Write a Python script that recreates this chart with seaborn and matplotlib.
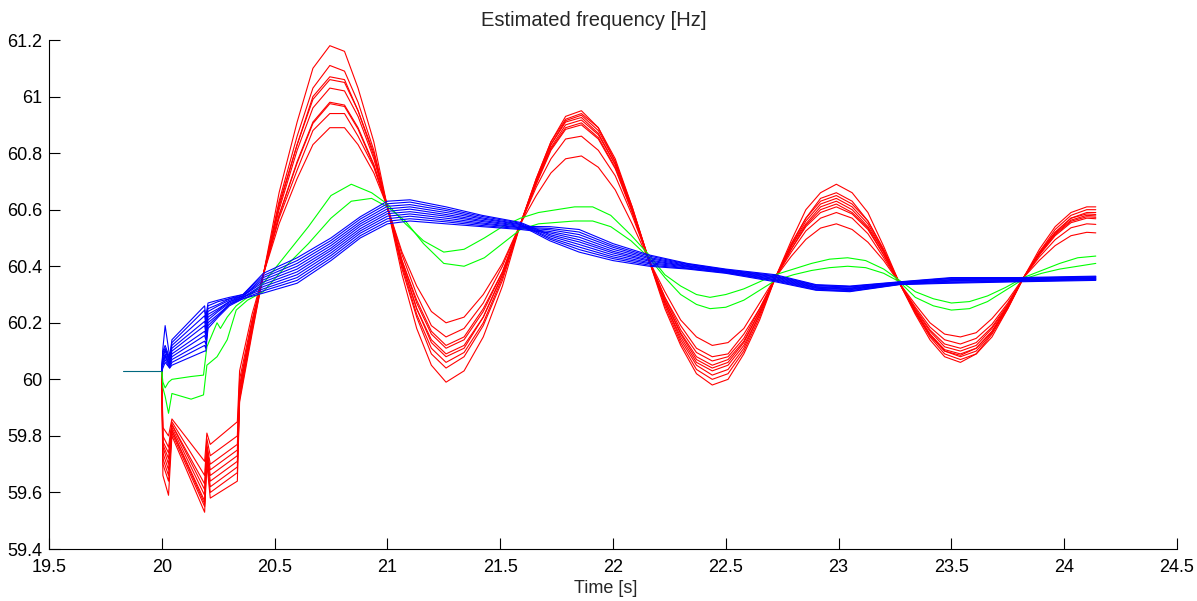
import matplotlib
matplotlib.use("Agg")
import pandas as pd
import matplotlib.pyplot as plt
import seaborn as sns
from matplotlib.ticker import FuncFormatter

# Pre-disturbance segment (all signals overlap)
pre_time = [19.83, 20.0]
pre_freq = [60.03, 60.03]

# Red group: shared time base
red_time = [20.0, 20.005, 20.03, 20.045, 20.19, 20.2, 20.215, 20.335, 20.345, 20.40,
            20.45, 20.52, 20.60, 20.67, 20.745, 20.81, 20.87, 20.94,
            21.00, 21.065, 21.13, 21.195, 21.26, 21.34, 21.425, 21.51,
            21.59, 21.66, 21.725, 21.79, 21.86, 21.935, 22.01, 22.085,
            22.16, 22.23, 22.30, 22.37, 22.44, 22.51, 22.58, 22.65,
            22.72, 22.79, 22.855, 22.92, 22.99, 23.06, 23.13, 23.20,
            23.27, 23.34, 23.405, 23.47, 23.54, 23.61, 23.68, 23.75,
            23.82, 23.89, 23.96, 24.03, 24.10, 24.14]

red_1 = [60.03, 59.66, 59.59, 59.80, 59.53, 59.70, 59.58, 59.64, 59.92, 60.16,
         60.37, 60.66, 60.91, 61.10, 61.18, 61.16, 61.03, 60.84,
         60.61, 60.37, 60.18, 60.05, 59.99, 60.03, 60.15, 60.33,
         60.55, 60.71, 60.84, 60.93, 60.95, 60.89, 60.78, 60.61,
         60.42, 60.25, 60.12, 60.02, 59.98, 60.00, 60.09, 60.21,
         60.36, 60.49, 60.60, 60.66, 60.69, 60.66, 60.59, 60.47,
         60.34, 60.23, 60.14, 60.08, 60.06, 60.09, 60.15, 60.25,
         60.36, 60.46, 60.54, 60.59, 60.61, 60.61]
red_2 = [60.03, 59.70, 59.64, 59.81, 59.55, 59.72, 59.60, 59.67, 59.93, 60.17,
         60.37, 60.63, 60.86, 61.03, 61.11, 61.09, 60.98, 60.81,
         60.61, 60.39, 60.22, 60.09, 60.04, 60.08, 60.19, 60.35,
         60.55, 60.71, 60.84, 60.92, 60.94, 60.89, 60.77, 60.61,
         60.42, 60.26, 60.13, 60.035, 60.00, 60.02, 60.10, 60.22,
         60.36, 60.48, 60.57, 60.64, 60.66, 60.63, 60.56, 60.46,
         60.34, 60.235, 60.15, 60.09, 60.07, 60.09, 60.16, 60.25,
         60.36, 60.45, 60.53, 60.58, 60.60, 60.60]
red_3 = [60.03, 59.72, 59.66, 59.82, 59.56, 59.73, 59.62, 59.69, 59.94, 60.18,
         60.37, 60.62, 60.83, 61.00, 61.07, 61.06, 60.95, 60.80,
         60.61, 60.40, 60.23, 60.11, 60.06, 60.095, 60.20, 60.36,
         60.55, 60.705, 60.83, 60.915, 60.934, 60.88, 60.77, 60.605,
         60.42, 60.27, 60.14, 60.05, 60.015, 60.035, 60.11, 60.23,
         60.36, 60.475, 60.57, 60.63, 60.65, 60.62, 60.56, 60.455,
         60.34, 60.24, 60.155, 60.10, 60.08, 60.10, 60.165, 60.255,
         60.36, 60.45, 60.52, 60.57, 60.59, 60.59]
red_4 = [60.03, 59.74, 59.68, 59.82, 59.57, 59.74, 59.64, 59.71, 59.95, 60.18,
         60.37, 60.61, 60.83, 60.99, 61.06, 61.05, 60.95, 60.79,
         60.61, 60.41, 60.25, 60.13, 60.08, 60.11, 60.22, 60.37,
         60.55, 60.70, 60.83, 60.91, 60.926, 60.87, 60.76, 60.60,
         60.42, 60.27, 60.15, 60.06, 60.03, 60.05, 60.12, 60.23,
         60.36, 60.47, 60.56, 60.62, 60.64, 60.61, 60.55, 60.45,
         60.34, 60.24, 60.16, 60.10, 60.085, 60.11, 60.17, 60.255,
         60.36, 60.445, 60.52, 60.57, 60.585, 60.583]
red_5 = [60.03, 59.76, 59.70, 59.83, 59.59, 59.75, 59.66, 59.73, 59.96, 60.19,
         60.37, 60.60, 60.81, 60.96, 61.03, 61.02, 60.93, 60.78,
         60.61, 60.41, 60.25, 60.14, 60.09, 60.12, 60.22, 60.37,
         60.55, 60.70, 60.82, 60.90, 60.917, 60.865, 60.76, 60.60,
         60.42, 60.28, 60.16, 60.07, 60.04, 60.06, 60.13, 60.24,
         60.36, 60.47, 60.55, 60.61, 60.63, 60.60, 60.54, 60.45,
         60.34, 60.24, 60.16, 60.105, 60.09, 60.11, 60.17, 60.26,
         60.36, 60.444, 60.516, 60.563, 60.58, 60.578]
red_6 = [60.03, 59.77, 59.72, 59.84, 59.61, 59.76, 59.68, 59.75, 59.97, 60.20,
         60.37, 60.58, 60.77, 60.91, 60.98, 60.97, 60.89, 60.76,
         60.61, 60.42, 60.27, 60.16, 60.11, 60.14, 60.24, 60.38,
         60.55, 60.695, 60.815, 60.89, 60.907, 60.855, 60.75, 60.595,
         60.42, 60.28, 60.165, 60.08, 60.05, 60.07, 60.135, 60.24,
         60.36, 60.46, 60.545, 60.60, 60.62, 60.59, 60.535, 60.44,
         60.34, 60.245, 60.17, 60.115, 60.10, 60.12, 60.18, 60.26,
         60.36, 60.442, 60.512, 60.559, 60.575, 60.573]
red_7 = [60.03, 59.78, 59.74, 59.84, 59.63, 59.77, 59.70, 59.77, 59.98, 60.20,
         60.37, 60.58, 60.765, 60.905, 60.975, 60.965, 60.885, 60.755,
         60.61, 60.42, 60.28, 60.17, 60.12, 60.15, 60.25, 60.38,
         60.55, 60.69, 60.81, 60.884, 60.90, 60.85, 60.745, 60.59,
         60.42, 60.29, 60.175, 60.095, 60.065, 60.08, 60.145, 60.25,
         60.36, 60.46, 60.54, 60.59, 60.61, 60.585, 60.53, 60.44,
         60.34, 60.25, 60.175, 60.125, 60.11, 60.13, 60.185, 60.265,
         60.36, 60.44, 60.508, 60.554, 60.57, 60.568]
red_8 = [60.03, 59.80, 59.76, 59.85, 59.66, 59.79, 59.73, 59.80, 60.00, 60.21,
         60.37, 60.57, 60.74, 60.88, 60.94, 60.94, 60.86, 60.75,
         60.61, 60.44, 60.30, 60.19, 60.15, 60.18, 60.27, 60.40,
         60.55, 60.68, 60.78, 60.85, 60.86, 60.81, 60.72, 60.58,
         60.42, 60.29, 60.19, 60.11, 60.08, 60.09, 60.16, 60.25,
         60.36, 60.45, 60.525, 60.57, 60.59, 60.57, 60.515, 60.43,
         60.34, 60.255, 60.185, 60.14, 60.125, 60.145, 60.195, 60.27,
         60.36, 60.433, 60.494, 60.536, 60.55, 60.548]
red_9 = [60.03, 59.83, 59.80, 59.86, 59.71, 59.81, 59.77, 59.85, 60.03, 60.23,
         60.37, 60.55, 60.71, 60.83, 60.89, 60.89, 60.83, 60.73,
         60.61, 60.45, 60.33, 60.24, 60.20, 60.22, 60.30, 60.41,
         60.55, 60.65, 60.73, 60.78, 60.79, 60.75, 60.67, 60.55,
         60.42, 60.31, 60.21, 60.15, 60.12, 60.13, 60.18, 60.27,
         60.36, 60.435, 60.495, 60.535, 60.55, 60.53, 60.485, 60.42,
         60.34, 60.265, 60.20, 60.16, 60.15, 60.165, 60.215, 60.28,
         60.36, 60.421, 60.473, 60.508, 60.52, 60.518]

# Green group
green_time = [20.0, 20.005, 20.015, 20.03, 20.045, 20.13, 20.185, 20.2, 20.245, 20.26, 20.29, 20.33, 20.38,
              20.45, 20.55, 20.65, 20.75, 20.84, 20.93, 21.0,
              21.08, 21.16, 21.25, 21.34, 21.43, 21.51, 21.59, 21.67, 21.75, 21.83, 21.91, 21.99, 22.08, 22.16,
              22.23, 22.30, 22.37, 22.43, 22.50, 22.58, 22.65, 22.72,
              22.80, 22.88, 22.96, 23.04, 23.12, 23.20, 23.27,
              23.34, 23.42, 23.50, 23.58, 23.66, 23.74, 23.82,
              23.90, 23.98, 24.06, 24.14]
green_1 = [60.03, 59.99, 59.97, 59.99, 60.00, 60.01, 60.015, 60.115, 60.20, 60.18, 60.22, 60.26, 60.29,
           60.34, 60.44, 60.54, 60.65, 60.69, 60.66, 60.62,
           60.55, 60.49, 60.45, 60.46, 60.50, 60.54, 60.57, 60.59, 60.60, 60.61, 60.61, 60.58, 60.51, 60.44,
           60.37, 60.33, 60.30, 60.29, 60.30, 60.32, 60.345, 60.37,
           60.39, 60.41, 60.425, 60.43, 60.42, 60.39, 60.35,
           60.31, 60.285, 60.27, 60.275, 60.295, 60.325, 60.36,
           60.385, 60.41, 60.43, 60.436]
green_2 = [60.03, 59.97, 59.94, 59.88, 59.95, 59.93, 59.945, 60.05, 60.08, 60.10, 60.14, 60.245, 60.28,
           60.31, 60.40, 60.48, 60.57, 60.63, 60.64, 60.61,
           60.56, 60.48, 60.41, 60.40, 60.43, 60.48, 60.53, 60.55, 60.555, 60.56, 60.56, 60.54, 60.49, 60.43,
           60.36, 60.30, 60.265, 60.25, 60.255, 60.28, 60.315, 60.35,
           60.37, 60.385, 60.395, 60.40, 60.395, 60.375, 60.345,
           60.29, 60.26, 60.245, 60.25, 60.275, 60.315, 60.355,
           60.375, 60.39, 60.40, 60.41]

# Blue group
blue_time = [20.0, 20.005, 20.015, 20.035, 20.045, 20.19, 20.195, 20.205, 20.25, 20.30,
             20.36, 20.45, 20.6, 20.75, 20.88, 21.0, 21.1, 21.26, 21.42, 21.59,
             21.72, 21.85, 22.0, 22.16, 22.33, 22.5, 22.72, 22.9, 23.05, 23.27,
             23.5, 23.8, 24.14]
blue_1 = [60.03, 60.11, 60.19, 60.08, 60.14, 60.26, 60.22, 60.27, 60.28, 60.29,
          60.30, 60.375, 60.43, 60.50, 60.575, 60.63, 60.635, 60.61, 60.58, 60.555,
          60.512, 60.486, 60.447, 60.418, 60.399, 60.382, 60.356, 60.324, 60.319, 60.339,
          60.349, 60.352, 60.357]
blue_2 = [60.03, 60.10, 60.12, 60.075, 60.13, 60.245, 60.21, 60.26, 60.275, 60.285,
          60.30, 60.367, 60.42, 60.491, 60.567, 60.621, 60.627, 60.603, 60.576, 60.552,
          60.507, 60.477, 60.44, 60.413, 60.397, 60.38, 60.353, 60.322, 60.317, 60.338,
          60.347, 60.35, 60.355]
blue_3 = [60.03, 60.095, 60.11, 60.07, 60.12, 60.225, 60.195, 60.25, 60.265, 60.285,
          60.295, 60.36, 60.41, 60.482, 60.558, 60.612, 60.618, 60.597, 60.571, 60.549,
          60.501, 60.468, 60.433, 60.409, 60.394, 60.378, 60.351, 60.319, 60.314, 60.337,
          60.344, 60.348, 60.353]
blue_4 = [60.03, 60.085, 60.105, 60.065, 60.11, 60.205, 60.18, 60.24, 60.26, 60.28,
          60.295, 60.352, 60.40, 60.473, 60.55, 60.603, 60.61, 60.59, 60.567, 60.547,
          60.496, 60.459, 60.427, 60.404, 60.392, 60.377, 60.348, 60.317, 60.312, 60.336,
          60.342, 60.347, 60.352]
blue_5 = [60.03, 60.08, 60.10, 60.06, 60.10, 60.19, 60.165, 60.23, 60.25, 60.275,
          60.295, 60.344, 60.39, 60.464, 60.542, 60.594, 60.602, 60.583, 60.562, 60.544,
          60.49, 60.45, 60.42, 60.40, 60.39, 60.375, 60.345, 60.315, 60.31, 60.335,
          60.34, 60.345, 60.35]
blue_6 = [60.03, 60.07, 60.09, 60.055, 60.09, 60.17, 60.155, 60.22, 60.245, 60.275,
          60.29, 60.336, 60.38, 60.456, 60.533, 60.586, 60.593, 60.577, 60.558, 60.541,
          60.54, 60.53, 60.48, 60.44, 60.41, 60.39, 60.37, 60.335, 60.33, 60.345,
          60.36, 60.36, 60.365]
blue_7 = [60.03, 60.065, 60.085, 60.05, 60.08, 60.155, 60.14, 60.21, 60.24, 60.27,
          60.29, 60.328, 60.37, 60.447, 60.525, 60.577, 60.585, 60.57, 60.553, 60.538,
          60.534, 60.521, 60.473, 60.436, 60.408, 60.388, 60.367, 60.333, 60.328, 60.344,
          60.358, 60.358, 60.363]
blue_8 = [60.03, 60.055, 60.08, 60.045, 60.07, 60.135, 60.125, 60.20, 60.23, 60.265,
          60.29, 60.32, 60.36, 60.438, 60.517, 60.568, 60.577, 60.563, 60.549, 60.536,
          60.529, 60.512, 60.467, 60.431, 60.406, 60.387, 60.364, 60.331, 60.326, 60.343,
          60.356, 60.357, 60.362]
blue_9 = [60.03, 60.05, 60.07, 60.04, 60.06, 60.12, 60.11, 60.19, 60.225, 60.265,
          60.285, 60.313, 60.35, 60.429, 60.508, 60.559, 60.568, 60.557, 60.544, 60.533,
          60.523, 60.503, 60.46, 60.427, 60.403, 60.385, 60.362, 60.328, 60.323, 60.342,
          60.353, 60.355, 60.36]
blue_10 = [60.03, 60.04, 60.06, 60.04, 60.05, 60.10, 60.10, 60.18, 60.22, 60.26,
           60.285, 60.305, 60.34, 60.42, 60.50, 60.55, 60.56, 60.55, 60.54, 60.53,
           60.518, 60.494, 60.453, 60.422, 60.401, 60.383, 60.359, 60.326, 60.321, 60.341,
           60.351, 60.353, 60.358]

x_ticks = [19.5, 20, 20.5, 21, 21.5, 22, 22.5, 23, 23.5, 24, 24.5]
y_ticks = [59.4, 59.6, 59.8, 60, 60.2, 60.4, 60.6, 60.8, 61, 61.2]

RED = "#ff0000"
GREEN = "#00ff00"
BLUE = "#0000ff"
TEAL = "#00687f"


def draw(ax, times, values, colour):
    df = pd.DataFrame({"t": times, "f": values})
    sns.lineplot(data=df, x="t", y="f", color=colour, linewidth=0.8,
                 estimator=None, sort=False, ax=ax)


def main():
    sns.set_theme(style="white")
    plt.rcParams['font.family'] = ['Liberation Sans', 'DejaVu Sans']

    fig = plt.figure(figsize=(11.97, 6.01), dpi=100)
    ax = fig.add_axes([0.0409, 0.0865, 0.9424, 0.8469])

    for line in [red_1, red_2, red_3, red_4, red_5, red_6, red_7, red_8, red_9]:
        draw(ax, red_time, line, RED)
    for line in [green_1, green_2]:
        draw(ax, green_time, line, GREEN)
    for line in [blue_1, blue_2, blue_3, blue_4, blue_5, blue_6, blue_7, blue_8, blue_9, blue_10]:
        draw(ax, blue_time, line, BLUE)
    draw(ax, pre_time, pre_freq, TEAL)

    ax.set_xlim(19.5, 24.5)
    ax.set_ylim(59.4, 61.2)
    ax.set_xticks(x_ticks)
    ax.set_yticks(y_ticks)
    fmt = FuncFormatter(lambda v, pos: "%g" % round(v, 2))
    ax.xaxis.set_major_formatter(fmt)
    ax.yaxis.set_major_formatter(fmt)

    sns.despine(ax=ax)
    for side in ["left", "bottom"]:
        ax.spines[side].set_color("black")
        ax.spines[side].set_linewidth(0.8)
    ax.tick_params(bottom=True, left=True, direction="in", length=8, width=0.8,
                   labelsize=13, colors="black")
    ax.tick_params(axis="x", pad=7)
    ax.tick_params(axis="y", pad=5)

    ax.set_title("Estimated frequency [Hz]", fontsize=14.5, pad=10, x=0.483)
    ax.set_xlabel("Time [s]", fontsize=13, labelpad=3, x=0.4934)
    ax.set_ylabel("")

    fig.savefig("out.png", dpi=100)
    plt.close(fig)


if __name__ == "__main__":
    main()
